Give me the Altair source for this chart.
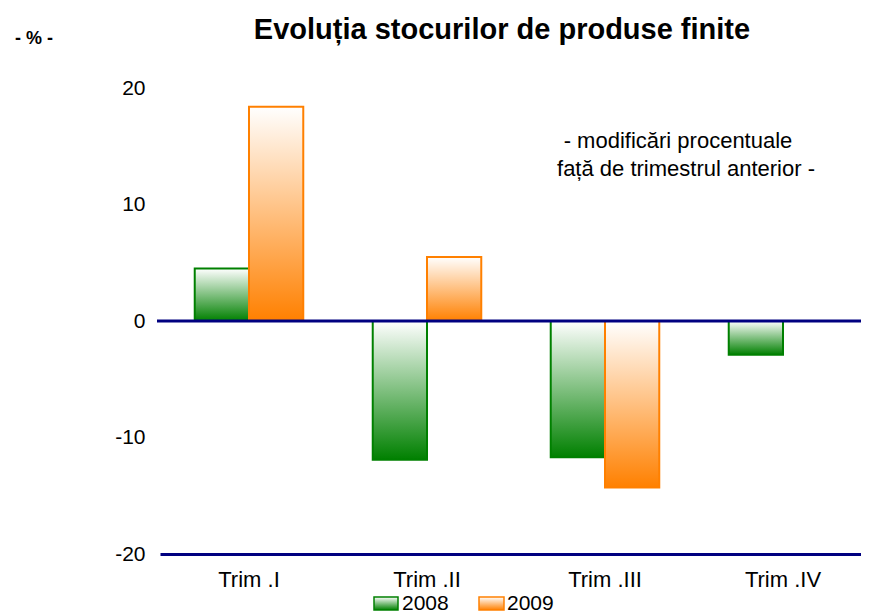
import altair as alt
import pandas as pd

# ---- data ----
quarters = ["Trim .I", "Trim .II", "Trim .III", "Trim .IV"]
series = ["2008", "2009"]
values_2008 = [4.5, -11.9, -11.7, -2.9]
values_2009 = [18.4, 5.5, -14.3, None]
y_ticks = [-20, -10, 0, 10, 20]
zero_line = [0]
title_text = ["Evoluția stocurilor de produse finite"]
unit_text = ["- % -"]
note_line1 = ["- modificări procentuale"]
note_line2 = ["față de trimestrul anterior -"]

colors = {"2008": "#008000", "2009": "#FF8000"}
NAVY = "#000080"
FONT = "Liberation Sans"

rows = []
for q, a, b in zip(quarters, values_2008, values_2009):
    if a is not None:
        rows.append({"quarter": q, "series": "2008", "value": a})
    if b is not None:
        rows.append({"quarter": q, "series": "2009", "value": b})
df = pd.DataFrame(rows)


def grad(c):
    return alt.Gradient(
        gradient="linear",
        stops=[alt.GradientStop(color="#ffffff", offset=0),
               alt.GradientStop(color=c, offset=1)],
        x1=0, x2=0, y1=0, y2=1,
    )


x_enc = alt.X(
    "quarter:N", sort=quarters,
    scale=alt.Scale(range=[3, 715], paddingInner=0, paddingOuter=0),
    axis=alt.Axis(title=None, labelAngle=0, ticks=False, tickSize=0,
                  domain=True, domainColor=NAVY, domainWidth=3,
                  labelFont=FONT, labelFontSize=22, labelColor="black",
                  labelPadding=32, labelBaseline="alphabetic", grid=False),
)
y_enc = alt.Y(
    "value:Q",
    scale=alt.Scale(domain=[-20, 20], nice=False, zero=True),
    axis=alt.Axis(title=None, values=y_ticks, domain=False, ticks=False,
                  grid=False, labelFont=FONT, labelFontSize=21,
                  labelColor="black", labelPadding=12,
                  labelExpr="'' + datum.value"),
)
xo_enc = alt.XOffset("series:N",
                     scale=alt.Scale(domain=series, paddingInner=0,
                                     paddingOuter=0.64))

base = alt.Chart(df)
layers = []
for s in series:
    layers.append(
        base.transform_filter(alt.datum.series == s)
        .mark_bar(fill=grad(colors[s]), stroke=colors[s], strokeWidth=2)
        .encode(x=x_enc, y=y_enc, xOffset=xo_enc)
    )

zero_rule = alt.Chart(pd.DataFrame({"y": zero_line})).mark_rule(
    color=NAVY, strokeWidth=3
).encode(y="y:Q", x=alt.value(0), x2=alt.value(704))


def label(txt, x, y, size, bold=False, align="center"):
    return alt.Chart(pd.DataFrame({"t": txt})).mark_text(
        font=FONT, fontSize=size, fontWeight="bold" if bold else "normal",
        align=align, baseline="alphabetic", color="black"
    ).encode(text="t:N", x=alt.value(x), y=alt.value(y))


title = label(title_text, 345, -49, 29, bold=True)
unit = label(unit_text, -123, -44, 18, bold=True)
note1 = label(note_line1, 521, 60, 22)
note2 = label(note_line2, 529, 88, 22)

# custom legend with gradient swatches
legend_layers = []
legend_pos = {"2008": (217, 241, 245), "2009": (322, 347, 350)}
for s in series:
    x1, x2, xt = legend_pos[s]
    legend_layers.append(
        alt.Chart(pd.DataFrame({"s": [s]})).mark_rect(
            fill=grad(colors[s]), stroke=colors[s], strokeWidth=1.5
        ).encode(x=alt.value(x1), x2=alt.value(x2),
                 y=alt.value(509), y2=alt.value(522))
    )
    legend_layers.append(
        alt.Chart(pd.DataFrame({"s": [s]})).mark_text(
            font=FONT, fontSize=21, align="left", baseline="alphabetic",
            color="black"
        ).encode(text="s:N", x=alt.value(xt), y=alt.value(522))
    )

chart = alt.layer(
    *layers, zero_rule, title, unit, note1, note2, *legend_layers
).properties(
    width=704, height=466,
    padding={"left": 149, "top": 80, "right": 0, "bottom": 62},
    autosize=alt.AutoSizeParams(type="none"),
    background="white",
).configure_view(stroke=None, strokeWidth=0)

chart.save("out.html", embed_options={"renderer": "svg", "actions": False})
